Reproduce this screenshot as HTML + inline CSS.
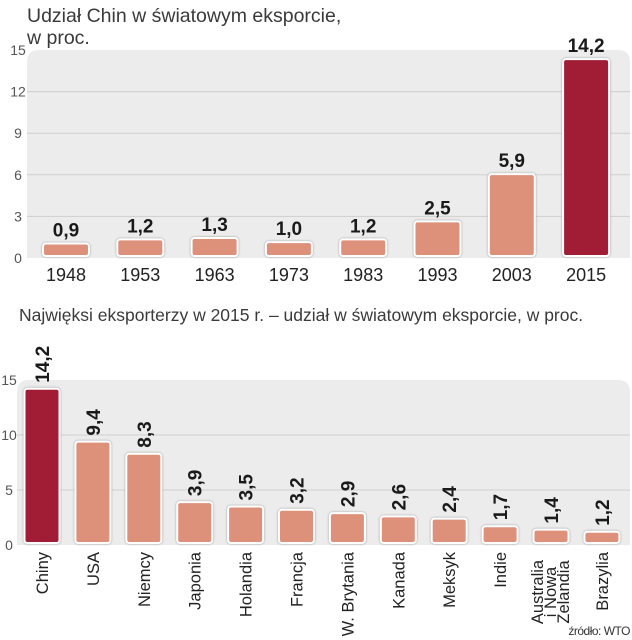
<!DOCTYPE html>
<html><head><meta charset="utf-8"><style>
body{margin:0;background:#fff;}
svg{display:block;font-family:"Liberation Sans",sans-serif;}
.v{font-family:"Liberation Sans Narrow","Liberation Sans",sans-serif;font-weight:bold;fill:#1a1a1a;}
</style></head><body>
<svg id="c" width="632" height="640" viewBox="0 0 632 640">
<text x="27" y="22" font-size="19.5" fill="#3a3a3a">Udział Chin w światowym eksporcie,</text>
<text x="27" y="44" font-size="19.5" fill="#3a3a3a">w proc.</text>
<text x="19" y="321" font-size="17.5" fill="#3a3a3a">Najwięksi eksporterzy w 2015 r. – udział w światowym eksporcie, w proc.</text>
<text x="630" y="635" font-size="12" fill="#333" text-anchor="end" letter-spacing="-0.5">źródło: WTO</text>
<g id="top"></g><g id="bot"></g>
</svg>
<script>
const years=["1948","1953","1963","1973","1983","1993","2003","2015"];
const chinaShare=[0.9,1.2,1.3,1.0,1.2,2.5,5.9,14.2];
const topTicks=[0,3,6,9,12,15];
const countries=["Chiny","USA","Niemcy","Japonia","Holandia","Francja","W. Brytania","Kanada","Meksyk","Indie","Australia|i Nowa|Zelandia","Brazylia"];
const exportShare=[14.2,9.4,8.3,3.9,3.5,3.2,2.9,2.6,2.4,1.7,1.4,1.2];
const botTicks=[0,5,10,15];
const NS="http://www.w3.org/2000/svg";
function mk(p,t,a,txt){const e=document.createElementNS(NS,t);for(const k in a)e.setAttribute(k,a[k]);if(txt!=null)e.textContent=txt;p.appendChild(e);return e;}
const fmt=v=>v.toFixed(1).replace('.',',');
const light="#dd917a",dark="#a11c35";
(function(){
 const g=document.getElementById('top');
 const y=v=>258-v*(208/15), x=i=>66+i*74.3;
 const bg=mk(g,'path',{d:"M27,258 L27,62 Q27,50 39,50 L618,50 Q630,50 630,62 L630,258 Z",fill:"#ececec"});
 
 
 topTicks.forEach(t=>{
  if(t>0&&t<15){const l=mk(g,'line',{x1:27,x2:630,y1:y(t),y2:y(t),stroke:"#cfcfcf","stroke-width":1});
  
  }
  const tx=mk(g,'text',{x:18,y:y(t)+5,"font-size":14,fill:"#555","text-anchor":"middle"},String(t));
  
  
 });
 chinaShare.forEach((v,i)=>{
  const h=Math.max(y(0)-y(v),6), top=y(0)-h-2;
  const b=mk(g,'rect',{x:x(i)-23,y:top,width:46,height:h,rx:3,fill:i==7?dark:light,stroke:"#fff","stroke-width":2,filter:"drop-shadow(0 0 1px #999)"});
  
  
  const vl=mk(g,'text',{x:x(i),y:top-7,"font-size":19,"text-anchor":"middle",class:"v"},fmt(v));
  
  
  const yl=mk(g,'text',{x:x(i),y:281,"font-size":18,fill:"#222","text-anchor":"middle"},years[i]);
  
  
 });
})();
(function(){
 const g=document.getElementById('bot');
 const y=v=>545-v*11, x=i=>42+i*50.9;
 const bg=mk(g,'path',{d:"M17,545 L17,392 Q17,380 29,380 L618,380 Q630,380 630,392 L630,545 Z",fill:"#ececec"});
 
 
 botTicks.forEach(t=>{
  if(t>0&&t<15){const l=mk(g,'line',{x1:17,x2:630,y1:y(t),y2:y(t),stroke:"#cfcfcf","stroke-width":1});
  
  }
  const tx=mk(g,'text',{x:9,y:y(t)+5,"font-size":14,fill:"#555","text-anchor":"middle"},String(t));
  
  
 });
 exportShare.forEach((v,i)=>{
  const top=y(v);
  const b=mk(g,'rect',{x:x(i)-17.5,y:top,width:35,height:y(0)-2-top,rx:3,fill:i==0?dark:light,stroke:"#fff","stroke-width":2,filter:"drop-shadow(0 0 1px #999)"});
  
  
  const vl=mk(g,'text',{transform:`translate(${x(i)+7},${top-6}) rotate(-90)`,"font-size":19,class:"v"},fmt(v));
  
  
  const lines=countries[i].split('|');
  const cl=mk(g,'text',{transform:`translate(${x(i)},552) rotate(-90)`,"font-size":16.5,fill:"#222","text-anchor":lines.length>1?"middle":"end"});
  
  
  if(lines.length>1){
   cl.setAttribute('transform',`translate(${x(i)},592) rotate(-90)`);
   lines.forEach((ln,k)=>mk(cl,'tspan',{x:0,y:(k-1)*13+5},ln));
  } else { mk(cl,'tspan',{x:0,y:6},lines[0]); }
 });
})();
</script>
</body></html>
